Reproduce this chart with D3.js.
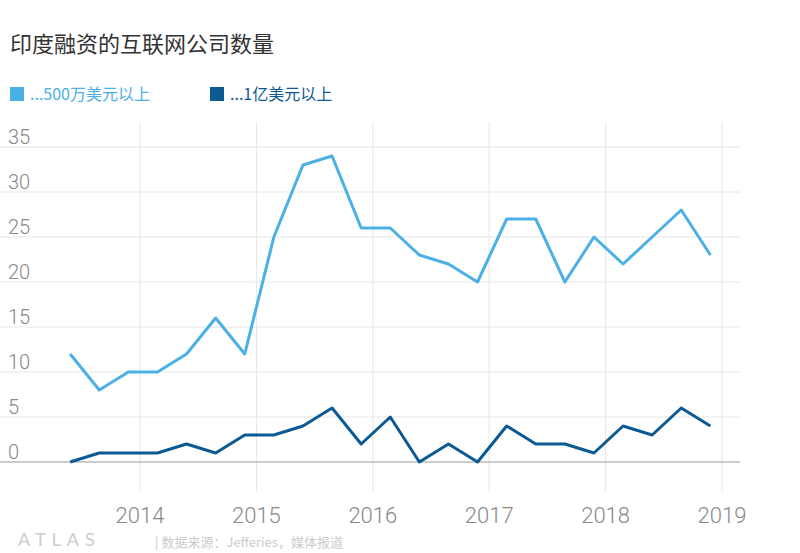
<!DOCTYPE html>
<html><head><meta charset="utf-8">
<script src="https://cdn.jsdelivr.net/npm/d3@7"></script>
<style>body{margin:0;background:#fff;font-family:"Noto Sans CJK SC","Noto Sans",sans-serif}</style>
</head><body><svg id="c" width="800" height="553"></svg>
<script>
const quarters = d3.range(23).map(i => 2013.4 + i * 0.25);
const seriesNames = ["...500万美元以上", "...1亿美元以上"];
const over5m = [12,8,10,10,12,16,12,25,33,34,26,26,23,22,20,27,27,20,25,22,25,28,23];
const over100m = [0,1,1,1,2,1,3,3,4,6,2,5,0,2,0,4,2,2,1,4,3,6,4];
const yTicks = [0,5,10,15,20,25,30,35];
const xTicks = [2014,2015,2016,2017,2018,2019];
const colors = ["#4bb0e6", "#0b5a94"];

const svg = d3.select("#c");
const x = d3.scaleLinear().domain([2014, 2019]).range([140, 722]);
const y = d3.scaleLinear().domain([0, 35]).range([462, 147]);

svg.append("text").attr("x", 10).attr("y", 52).attr("font-size", 22).attr("fill", "#333").text("印度融资的互联网公司数量");

seriesNames.forEach((n, i) => {
  const lx = [10, 210][i];
  svg.append("rect").attr("x", lx).attr("y", 87).attr("width", 14).attr("height", 14).attr("fill", colors[i]);
  svg.append("text").attr("x", lx + 20).attr("y", 100).attr("font-size", 16).attr("fill", colors[i]).text(n);
});

// grid
svg.append("g").selectAll("line").data(yTicks.slice(1)).join("line")
  .attr("x1", 0).attr("x2", 740).attr("y1", d => y(d)).attr("y2", d => y(d))
  .attr("stroke", "#e6e6e6");
svg.append("g").selectAll("line").data(xTicks).join("line")
  .attr("x1", d => x(d)).attr("x2", d => x(d)).attr("y1", 122).attr("y2", 492)
  .attr("stroke", "#e6e6e6");
svg.append("line").attr("x1", 0).attr("x2", 740).attr("y1", y(0)).attr("y2", y(0)).attr("stroke", "#999");

svg.append("g").selectAll("text").data(yTicks).join("text")
  .attr("x", 8).attr("y", d => y(d) - 3).attr("font-size", 20).attr("fill", "#888")
  .attr("font-family", "Roboto, sans-serif").attr("font-weight", 300).text(d => d);
svg.append("g").selectAll("text").data(xTicks).join("text")
  .attr("x", d => x(d)).attr("y", 523).attr("text-anchor", "middle").attr("font-size", 22).attr("fill", "#888")
  .attr("font-family", "Roboto, sans-serif").attr("font-weight", 300).text(d => d);

const line = d3.line().x((d, i) => x(quarters[i])).y(d => y(d)).curve(d3.curveLinear);
[over5m, over100m].forEach((s, i) => {
  svg.append("path").attr("d", line(s)).attr("fill", "none").attr("stroke", colors[i])
    .attr("stroke-width", 3).attr("stroke-linejoin", "round");
});

svg.append("text").attr("x", 18).attr("y", 546).attr("font-size", 18).attr("fill", "#ccc")
  .attr("letter-spacing", 6).attr("font-family", "Lato, sans-serif").text("ATLAS");
svg.append("text").attr("x", 155).attr("y", 547).attr("font-size", 13).attr("fill", "#ccc")
  .text("|  数据来源：Jefferies，媒体报道");
</script></body></html>
